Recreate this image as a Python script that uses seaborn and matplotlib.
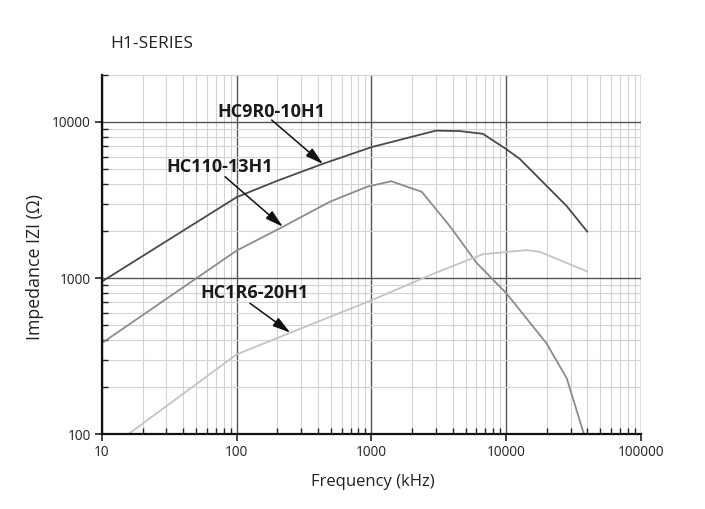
import matplotlib
matplotlib.use("Agg")
import matplotlib.pyplot as plt
import seaborn as sns
import pandas as pd
from matplotlib.ticker import LogLocator, NullFormatter, FixedLocator, FixedFormatter

# ---- data (kHz, ohm) -----------------------------------------------------
hc9r0_freq = [10, 100, 200, 437, 1000, 3000, 4500, 6700, 10000, 12600, 28000, 40000]
hc9r0_imp = [950, 3300, 4200, 5400, 6900, 8800, 8750, 8400, 6700, 5800, 2900, 1980]

hc110_freq = [10, 100, 220, 490, 930, 1400, 2360, 3830, 6030, 10000, 19900, 28100, 37700]
hc110_imp = [383, 1500, 2130, 3080, 3850, 4170, 3570, 2140, 1250, 800, 381, 228, 100]

hc1r6_freq = [15.7, 100, 250, 1000, 3000, 6700, 14200, 17800, 40000]
hc1r6_imp = [100, 324, 446, 720, 1080, 1420, 1510, 1470, 1100]

series_names = ["HC9R0-10H1", "HC110-13H1", "HC1R6-20H1"]
series_colors = ["#4a4a4a", "#8c8c8c", "#c4c4c4"]

# callout anchor: where each arrow points on its curve
arrow_tip_freq = [437, 220, 250]
arrow_tip_imp = [5370, 2130, 446]

frames = []
for name, f, z in zip(series_names,
                      [hc9r0_freq, hc110_freq, hc1r6_freq],
                      [hc9r0_imp, hc110_imp, hc1r6_imp]):
    frames.append(pd.DataFrame({"freq": f, "imp": z, "part": name}))
df = pd.concat(frames, ignore_index=True)

sns.set_theme(style="white")
plt.rcParams["font.family"] = ["Open Sans", "DejaVu Sans"]

fig = plt.figure(figsize=(7.05, 5.09), dpi=100)
ax = fig.add_axes([0.1447, 0.1473, 0.7645, 0.7053])

ax.set_xscale("log")
ax.set_yscale("log")
ax.set_xlim(10, 100000)
ax.set_ylim(100, 20000)

# grid first so curves sit on top
ax.xaxis.set_minor_locator(LogLocator(base=10, subs=range(2, 10)))
ax.yaxis.set_minor_locator(LogLocator(base=10, subs=range(2, 10)))
ax.xaxis.set_minor_formatter(NullFormatter())
ax.yaxis.set_minor_formatter(NullFormatter())
ax.grid(which="minor", color="#d4d4d4", linewidth=0.8)
ax.grid(which="major", color="#555555", linewidth=1.0)
ax.set_axisbelow(True)

sns.lineplot(data=df, x="freq", y="imp", hue="part", palette=series_colors,
             hue_order=series_names, sort=False, estimator=None,
             linewidth=1.3, legend=False, ax=ax)

ax.xaxis.set_major_locator(FixedLocator([10, 100, 1000, 10000, 100000]))
ax.xaxis.set_major_formatter(FixedFormatter(["10", "100", "1000", "10000", "100000"]))
ax.yaxis.set_major_locator(FixedLocator([100, 1000, 10000]))
ax.yaxis.set_major_formatter(FixedFormatter(["100", "1000", "10000"]))

ax.tick_params(which="major", direction="out", length=5, width=1.2,
               labelsize=9.8, colors="#222222", pad=3)
ax.tick_params(which="minor", direction="in", length=4, width=1.0, colors="#222222")
ax.tick_params(axis="x", which="both", bottom=True)
ax.tick_params(axis="y", which="both", left=True)

for side in ["top", "right"]:
    ax.spines[side].set_visible(False)
for side in ["left", "bottom"]:
    ax.spines[side].set_color("#111111")
    ax.spines[side].set_linewidth(1.6)

ax.set_xlabel("Frequency (kHz)", fontsize=12, color="#222222", va="center")
ax.xaxis.set_label_coords(0.502, -0.133)
ax.set_ylabel("Impedance IZI (\u03a9)", fontsize=12.8, color="#222222", va="center")
ax.yaxis.set_label_coords(-0.124, 0.465)
fig.text(0.156, 0.9136, "H1-SERIES", fontsize=12.5, color="#222222", va="center")

# callout labels with arrows (label centre and arrow tail in axes fraction)
label_pos = [(0.3145, 0.8978), (0.2180, 0.7446), (0.2836, 0.3920)]
arrow_tail = [(0.3148, 0.8747), (0.2282, 0.7167), (0.2746, 0.3641)]
for name, (lx, ly), tail, fx, zy in zip(series_names, label_pos, arrow_tail,
                                        arrow_tip_freq, arrow_tip_imp):
    ax.text(lx, ly, name, transform=ax.transAxes, ha="center", va="center",
            fontsize=13, fontweight="bold", color="#1a1a1a")
    ax.annotate("", xy=(fx, zy), xytext=tail, textcoords="axes fraction",
                arrowprops=dict(arrowstyle="-|>,head_length=0.9,head_width=0.25",
                                color="#111111", lw=1.1, shrinkA=0, shrinkB=0))

fig.savefig("out.png", dpi=100)
